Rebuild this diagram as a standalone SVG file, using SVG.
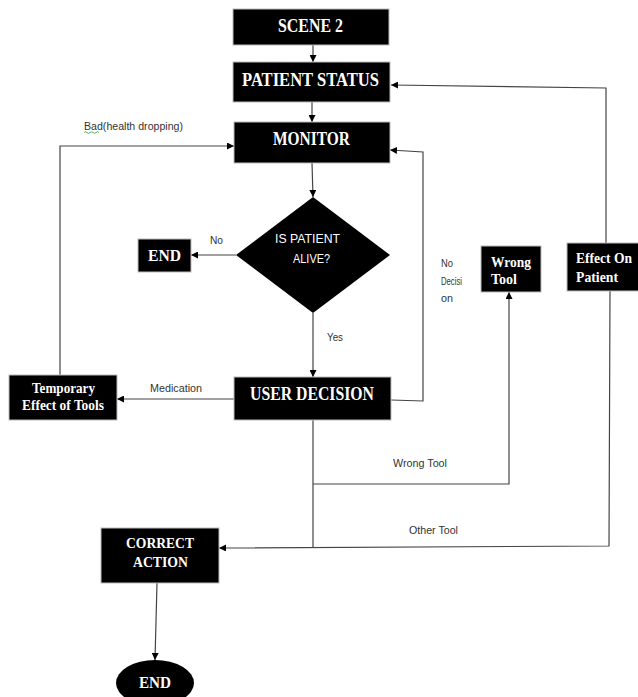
<svg xmlns="http://www.w3.org/2000/svg" width="638" height="697" viewBox="0 0 638 697">
<defs>
<marker id="ah" viewBox="0 0 8 8" refX="8" refY="4" markerWidth="7" markerHeight="7" markerUnits="userSpaceOnUse" orient="auto">
<path d="M0,0 L8,4 L0,8 Z" fill="#000"/>
</marker>
</defs>
<style>
.box{fill:#000;stroke:#bbb;stroke-width:1}
.t{font-family:"Liberation Serif","Times New Roman",serif;font-weight:bold;fill:#fff}
.s{font-family:"Liberation Sans",Arial,sans-serif;fill:#fff}
.lbl{font-family:"Liberation Sans",Arial,sans-serif;font-size:11px;fill:#333}
.c{fill:none;stroke:#444;stroke-width:1.2}
.a{marker-end:url(#ah)}
</style>
<rect width="638" height="697" fill="#fff"/>

<g id="connectors">
<path class="c a" d="M313,45 L313,62"/>
<path class="c a" d="M312,102 L312,122"/>
<path class="c a" d="M312,163 L313,197"/>
<path class="c a" d="M236,255 L191,255"/>
<path class="c a" d="M313,313 L313,377"/>
<path class="c a" d="M234,399 L117,399"/>
<path class="c a" d="M60,375 L60,146 L234,146"/>
<path class="c a" d="M391,400 L423,401 L423,152 L390,150"/>
<path class="c" d="M313,420 L313,548"/>
<path class="c a" d="M313,484 L509,484 L509,292"/>
<path class="c a" d="M610,291 L609,546 L219,548"/>
<path class="c a" d="M606,243 L606,88 L391,85"/>
<path class="c a" d="M157,583 L155,660"/>
</g>

<g id="labels">
<text class="lbl" x="84" y="130" textLength="99" lengthAdjust="spacingAndGlyphs">Bad(health dropping)</text>
<path d="M84,132.5 q1.5,-1.5 3,0 t3,0 t3,0 t3,0 t3,0" fill="none" stroke="#3a9a3a" stroke-width="0.8"/>
<text class="lbl" x="210" y="244" textLength="13" lengthAdjust="spacingAndGlyphs">No</text>
<text class="lbl" x="327" y="341" textLength="16" lengthAdjust="spacingAndGlyphs">Yes</text>
<text class="lbl" x="441" y="267" font-size="10" textLength="12" lengthAdjust="spacingAndGlyphs">No</text>
<text class="lbl" x="441" y="285" font-size="10" textLength="21" lengthAdjust="spacingAndGlyphs">Decisi</text>
<text class="lbl" x="441" y="302" font-size="10" textLength="12" lengthAdjust="spacingAndGlyphs">on</text>
<text class="lbl" x="150" y="392" textLength="52" lengthAdjust="spacingAndGlyphs">Medication</text>
<text class="lbl" x="393" y="467" textLength="54" lengthAdjust="spacingAndGlyphs">Wrong Tool</text>
<text class="lbl" x="409" y="534" textLength="49" lengthAdjust="spacingAndGlyphs">Other Tool</text>
</g>

<g id="scene2">
<rect class="box" x="233" y="9" width="156" height="36"/>
<text class="t" x="278" y="32" font-size="18" textLength="65" lengthAdjust="spacingAndGlyphs">SCENE 2</text>
</g>
<g id="patient-status">
<rect class="box" x="233" y="62" width="157" height="40"/>
<text class="t" x="242" y="86" font-size="19" textLength="137" lengthAdjust="spacingAndGlyphs">PATIENT STATUS</text>
</g>
<g id="monitor">
<rect class="box" x="234" y="122" width="156" height="41"/>
<text class="t" x="273" y="145" font-size="18" textLength="77" lengthAdjust="spacingAndGlyphs">MONITOR</text>
</g>
<g id="is-alive">
<polygon points="313,197 390,255 313,313 236,255" fill="#000"/>
<text class="s" x="275" y="243" font-size="12.5" textLength="65" lengthAdjust="spacingAndGlyphs">IS PATIENT</text>
<text class="s" x="293" y="263" font-size="12.5" textLength="37" lengthAdjust="spacingAndGlyphs">ALIVE?</text>
</g>
<g id="end1">
<rect class="box" x="138" y="239" width="53" height="33"/>
<text class="t" x="148" y="261" font-size="17" textLength="33" lengthAdjust="spacingAndGlyphs">END</text>
</g>
<g id="wrong-tool">
<rect class="box" x="481" y="246" width="60" height="46"/>
<text class="t" x="491" y="267" font-size="15" textLength="40" lengthAdjust="spacingAndGlyphs">Wrong</text>
<text class="t" x="491" y="284" font-size="15" textLength="26" lengthAdjust="spacingAndGlyphs">Tool</text>
</g>
<g id="effect-on-patient">
<rect class="box" x="567" y="243" width="72" height="48"/>
<text class="t" x="576" y="263" font-size="15" textLength="56" lengthAdjust="spacingAndGlyphs">Effect On</text>
<text class="t" x="576" y="282" font-size="15" textLength="42" lengthAdjust="spacingAndGlyphs">Patient</text>
</g>
<g id="temporary-effect">
<rect class="box" x="9" y="375" width="108" height="45"/>
<text class="t" x="32" y="393" font-size="15" textLength="63" lengthAdjust="spacingAndGlyphs">Temporary</text>
<text class="t" x="22" y="410" font-size="15" textLength="82" lengthAdjust="spacingAndGlyphs">Effect of Tools</text>
</g>
<g id="user-decision">
<rect class="box" x="234" y="377" width="157" height="43"/>
<text class="t" x="250" y="400" font-size="18" textLength="124" lengthAdjust="spacingAndGlyphs">USER DECISION</text>
</g>
<g id="correct-action">
<rect class="box" x="101" y="528" width="118" height="55"/>
<text class="t" x="126" y="548" font-size="15" textLength="68" lengthAdjust="spacingAndGlyphs">CORRECT</text>
<text class="t" x="133" y="567" font-size="15" textLength="55" lengthAdjust="spacingAndGlyphs">ACTION</text>
</g>
<g id="end2">
<ellipse cx="155" cy="683" rx="39" ry="23" fill="#000"/>
<text class="t" x="139" y="688" font-size="16" textLength="32" lengthAdjust="spacingAndGlyphs">END</text>
</g>
</svg>
